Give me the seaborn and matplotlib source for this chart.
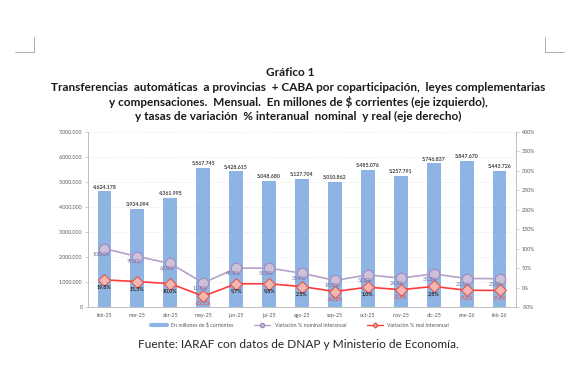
import matplotlib
matplotlib.use('Agg')

import numpy as np
import pandas as pd
import matplotlib.pyplot as plt
from matplotlib.lines import Line2D
from matplotlib.ticker import FuncFormatter
import seaborn as sns

months = ['feb-25', 'mar-25', 'abr-25', 'may-25', 'jun-25', 'jul-25', 'ago-25',
          'sep-25', 'oct-25', 'nov-25', 'dic-25', 'ene-26', 'feb-26']
transfers = [4624178, 3934094, 4361995, 5567745, 5428615, 5048680, 5127704,
             5010862, 5485076, 5257791, 5746837, 5847670, 5443726]
nominal = [100.0, 79.8, 62.0, 11.8, 49.8, 50.0, 36.9, 18.3, 32.6, 24.2, 35.2, 23.1, 23.0]
real = [19.8, 15.3, 10.0, -22.1, 9.7, 9.8, 2.5, -10.2, 1.0, -5.5, 2.8, -7.0, -7.4]

BAR = '#8db4e2'
PURPLE_LINE = '#b3a2c7'
PURPLE_FILL = '#ccc0da'
PURPLE_EDGE = '#9f8cbf'
RED = '#ff3b3b'
RED_FILL = '#f4b6b0'
GRAY = '#595959'

sns.set_style('white')
plt.rcParams['font.family'] = ['Lato', 'DejaVu Sans']

df = pd.DataFrame({'mes': months, 'monto': transfers, 'nominal': nominal, 'real': real})

fig = plt.figure(figsize=(5.79, 3.79), dpi=100)
ax = fig.add_axes([88 / 579, 1 - 307 / 379, 428 / 579, 175 / 379])

sns.barplot(data=df, x='mes', y='monto', ax=ax, color=BAR, width=0.42,
            saturation=1, edgecolor='none')
ax.set_ylim(0, 7000000)
ax.set_yticks(np.arange(0, 7000001, 1000000))
ax.yaxis.set_major_formatter(FuncFormatter(lambda v, p: f'{int(v):,}'.replace(',', '.')))
ax.set_xlabel('')
ax.set_ylabel('')
for y in np.arange(1000000, 7000001, 1000000):
    ax.axhline(y, color='#e6e6e6', lw=0.5, ls=(0, (2, 2)), zorder=0)

for i, v in enumerate(transfers):
    ax.text(i, v + 60000, f'{v:,}'.replace(',', '.'), ha='center', va='bottom',
            fontsize=3.8, fontweight='bold', color='#404040')

ax2 = ax.twinx()
sns.pointplot(data=df, x='mes', y='nominal', ax=ax2, color=PURPLE_LINE, marker='o',
              markersize=7.5, markerfacecolor=PURPLE_FILL, markeredgecolor=PURPLE_EDGE,
              markeredgewidth=0.8, linewidth=1.2, errorbar=None)
sns.pointplot(data=df, x='mes', y='real', ax=ax2, color=RED, marker='D',
              markersize=6, markerfacecolor=RED_FILL, markeredgecolor='#e05a50',
              markeredgewidth=0.8, linewidth=1.2, errorbar=None)
ax2.set_ylim(-50, 400)
ax2.set_yticks(np.arange(-50, 401, 50))
ax2.yaxis.set_major_formatter(FuncFormatter(lambda v, p: f'{int(v)}%'))
ax2.set_ylabel('')
ax2.set_xlabel('')
ax.set_xlim(-0.5, len(months) - 0.5)

def pct(v):
    return f'{v:.1f}%'.replace('.', ',')

for i, v in enumerate(nominal):
    ax2.text(i - 0.1, v - 12, pct(v), ha='center', va='center', fontsize=3.8,
             color='#7a6a9a')
for i, v in enumerate(real):
    if v >= 0:
        ax2.text(i, v - 18, pct(v), ha='center', va='center', fontsize=3.8,
                 color='#262626', fontweight='bold')
    else:
        ax2.text(i, v - 18, pct(v), ha='center', va='center', fontsize=3.8,
                 color=RED)

for a in (ax, ax2):
    for s in a.spines.values():
        s.set_color('#bfbfbf')
        s.set_linewidth(0.6)
    a.spines['top'].set_visible(False)
    a.tick_params(labelsize=3.8, colors=GRAY, length=2, width=0.5, pad=2)
    a.tick_params(axis='both', color='#bfbfbf')

handles = [
    Line2D([0], [0], color=BAR, lw=3),
    Line2D([0], [0], color=PURPLE_LINE, lw=1, marker='o', markersize=3,
           markerfacecolor=PURPLE_FILL, markeredgecolor=PURPLE_EDGE),
    Line2D([0], [0], color=RED, lw=1, marker='D', markersize=2.5,
           markerfacecolor=RED_FILL, markeredgecolor='#e05a50'),
]
labels = ['En millones de $ corrientes', 'Variación % nominal interanual',
          'Variación % real interanual']
fig.legend(handles, labels, loc='center', bbox_to_anchor=(300 / 579, 1 - 325 / 379),
           ncol=3, frameon=False, fontsize=3.8, handlelength=3, columnspacing=4,
           labelcolor=GRAY)

fig.text(290 / 579, 1 - 73 / 379, 'Gráfico 1', ha='center', va='center',
         fontsize=8.5, fontweight='bold', color='#1a1a1a')
title_lines = [
    'Transferencias  automáticas  a provincias  + CABA por coparticipación,  leyes complementarias',
    'y compensaciones.  Mensual.  En millones de $ corrientes (eje izquierdo),',
    'y tasas de variación  % interanual  nominal  y real (eje derecho)',
]
for k, line in enumerate(title_lines):
    fig.text(298 / 579, 1 - (87.5 + 14.5 * k) / 379, line, ha='center', va='center',
             fontsize=8.5, fontweight='bold', color='#1a1a1a')

fig.text(298 / 579, 1 - 345 / 379,
         'Fuente: IARAF con datos de DNAP y Ministerio de Economía.',
         ha='center', va='center', fontsize=8.6, color='#262626')

# crop marks
fig.add_artist(Line2D([15 / 579, 34 / 579], [1 - 52 / 379, 1 - 52 / 379], color='#a0a0a0', lw=0.6))
fig.add_artist(Line2D([34 / 579, 34 / 579], [1 - 37 / 379, 1 - 52 / 379], color='#a0a0a0', lw=0.6))
fig.add_artist(Line2D([545 / 579, 564 / 579], [1 - 52 / 379, 1 - 52 / 379], color='#a0a0a0', lw=0.6))
fig.add_artist(Line2D([545 / 579, 545 / 579], [1 - 37 / 379, 1 - 52 / 379], color='#a0a0a0', lw=0.6))

plt.savefig('out.png', dpi=100, facecolor='white')
